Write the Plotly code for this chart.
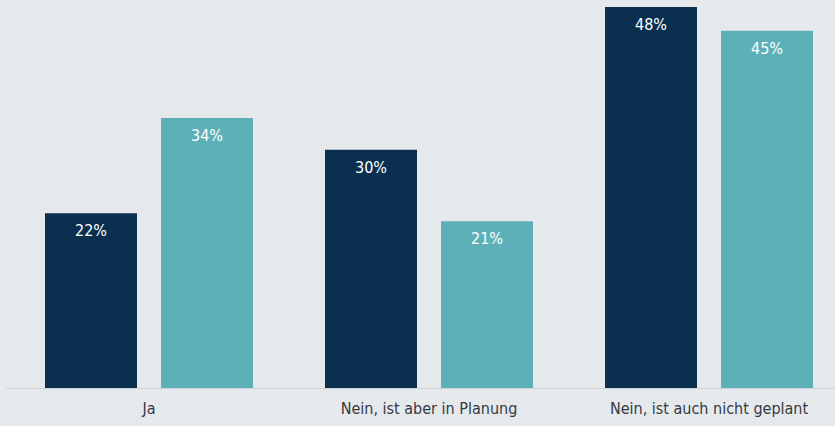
import plotly.graph_objects as go

categories = ["Ja", "Nein, ist aber in Planung", "Nein, ist auch nicht geplant"]
series_a = [22, 30, 48]
series_b = [34, 21, 45]
labels_a = [f"{v}%" for v in series_a]
labels_b = [f"{v}%" for v in series_b]

NAVY = "#0a2f4f"
TEAL = "#5eb0b8"
BG = "#e6e9ec"
FONT = "Tahoma, 'DejaVu Sans Condensed', 'Liberation Sans Narrow', 'DejaVu Sans', sans-serif"

fig = go.Figure()
for vals, col in [(series_a, NAVY), (series_b, TEAL)]:
    fig.add_trace(go.Bar(
        x=categories, y=vals,
        marker=dict(color=col, line=dict(width=0)),
        hoverinfo="skip",
    ))

# value labels just inside the top of each bar
for vals, txt, shift in [(series_a, labels_a, -58), (series_b, labels_b, 58)]:
    for c, v, t in zip(categories, vals, txt):
        fig.add_annotation(
            x=c, y=v, text=t, showarrow=False,
            xanchor="center", yanchor="top", xshift=shift, yshift=-6,
            font=dict(color="white", size=16, family=FONT),
        )

fig.update_layout(
    width=835, height=426,
    margin=dict(l=6, r=0, t=0, b=38),
    paper_bgcolor=BG, plot_bgcolor=BG,
    barmode="group", bargap=0.1714, bargroupgap=0.2069,
    showlegend=False,
    font=dict(family=FONT, color="#333a44", size=16),
)
fig.update_xaxes(
    range=[-0.5107, 2.45], showgrid=False, zeroline=False,
    showline=True, linecolor="#cfd2d6", linewidth=1,
    ticks="", ticklabelstandoff=6,
    tickfont=dict(size=16, color="#333a44", family=FONT),
)
fig.update_yaxes(range=[0, 48.88], visible=False, showgrid=False, zeroline=False)

fig.write_html("out.html")
